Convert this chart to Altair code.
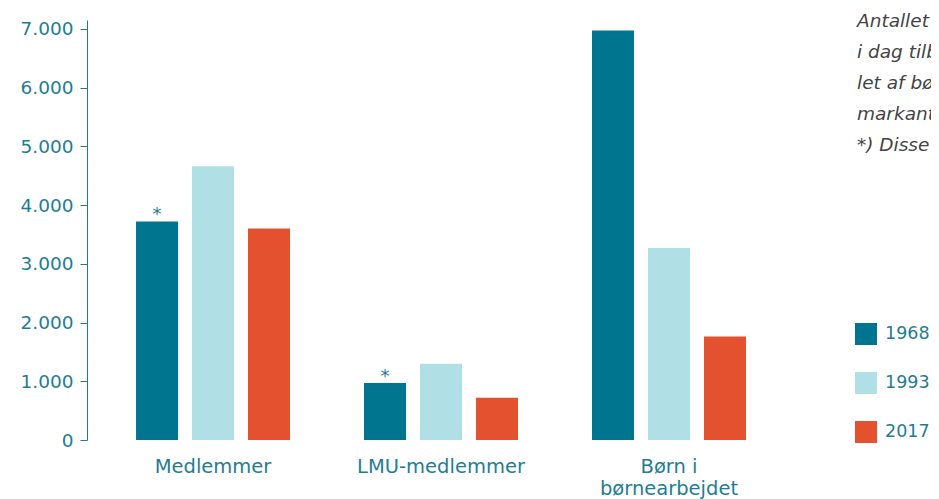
import altair as alt
import pandas as pd

categories = ["Medlemmer", "LMU-medlemmer", "Børn i børnearbejdet"]
years = ["1968", "1993", "2017"]
values_1968 = [3720, 970, 6970]
values_1993 = [4660, 1300, 3270]
values_2017 = [3600, 720, 1760]
notes_1968 = ["*", "*", ""]
y_ticks = [0, 1000, 2000, 3000, 4000, 5000, 6000, 7000]
side_text = [
    "Antallet af medlemmer er",
    "i dag tilbage på niveau med 1968, mens antal-",
    "let af børn i børnearbejdet er faldet",
    "markant.",
    "*) Disse tal er anslåede.",
]

TEAL = "#00758f"
LIGHT = "#b0dfe5"
RED = "#e4512e"
TXT = "#1f7d93"
FONT = "DejaVu Sans"

rows = []
for i, c in enumerate(categories):
    rows.append({"cat": c, "year": "1968", "value": values_1968[i], "note": notes_1968[i]})
    rows.append({"cat": c, "year": "1993", "value": values_1993[i], "note": ""})
    rows.append({"cat": c, "year": "2017", "value": values_2017[i], "note": ""})
df = pd.DataFrame(rows)

x = alt.X("cat:N", sort=categories, title=None,
          scale=alt.Scale(paddingInner=0.3246, paddingOuter=0.215),
          axis=alt.Axis(domain=False, ticks=False, labelAngle=0, labelFontSize=19.5,
                        labelColor=TXT, labelFont=FONT, labelPadding=17,
                        labelLineHeight=22, labelBaseline="top",
                        labelExpr="datum.label == 'Børn i børnearbejdet' ? ['Børn i', 'børnearbejdet'] : datum.label"))
xo = alt.XOffset("year:N", sort=years, scale=alt.Scale(paddingInner=0.25, paddingOuter=0))
y = alt.Y("value:Q", title=None,
          scale=alt.Scale(domain=[0, 7150], nice=False),
          axis=alt.Axis(values=y_ticks, grid=False, domainColor=TXT, tickColor=TXT,
                        tickSize=7, labelFontSize=18.5, labelColor=TXT, labelFont=FONT,
                        labelPadding=7, format=",d",
                        labelExpr="replace(datum.label, ',', '.')"))

bars = alt.Chart(df).mark_bar().encode(
    x=x, xOffset=xo, y=y,
    color=alt.Color("year:N", sort=years,
                    scale=alt.Scale(domain=years, range=[TEAL, LIGHT, RED]),
                    legend=alt.Legend(title=None, orient="none", legendX=768, legendY=303,
                                      symbolType="square", symbolSize=484,
                                      symbolStrokeWidth=0, labelFontSize=17.5,
                                      labelColor=TXT, labelFont=FONT, labelOffset=8,
                                      rowPadding=27, padding=0)),
)

notes = alt.Chart(df).mark_text(fontSize=18, color=TXT, font=FONT, baseline="alphabetic", dy=-1).encode(
    x=x, xOffset=xo, y=y, text="note:N"
)

side = alt.Chart(pd.DataFrame({"t": ["\n".join(side_text)]})).mark_text(
    align="left", baseline="top", fontSize=18.5, fontStyle="italic", color="#444444",
    font=FONT, lineBreak="\n", lineHeight=31
).encode(x=alt.value(770), y=alt.value(-8), text="t:N")

chart = alt.layer(bars, notes, side).properties(
    width=708, height=420,
    autosize=alt.AutoSizeParams(type="none"),
    padding={"left": 79, "top": 12, "right": 136, "bottom": 59},
).configure_view(stroke=None)

chart.save("out.html", embed_options={"renderer": "svg", "actions": False})
